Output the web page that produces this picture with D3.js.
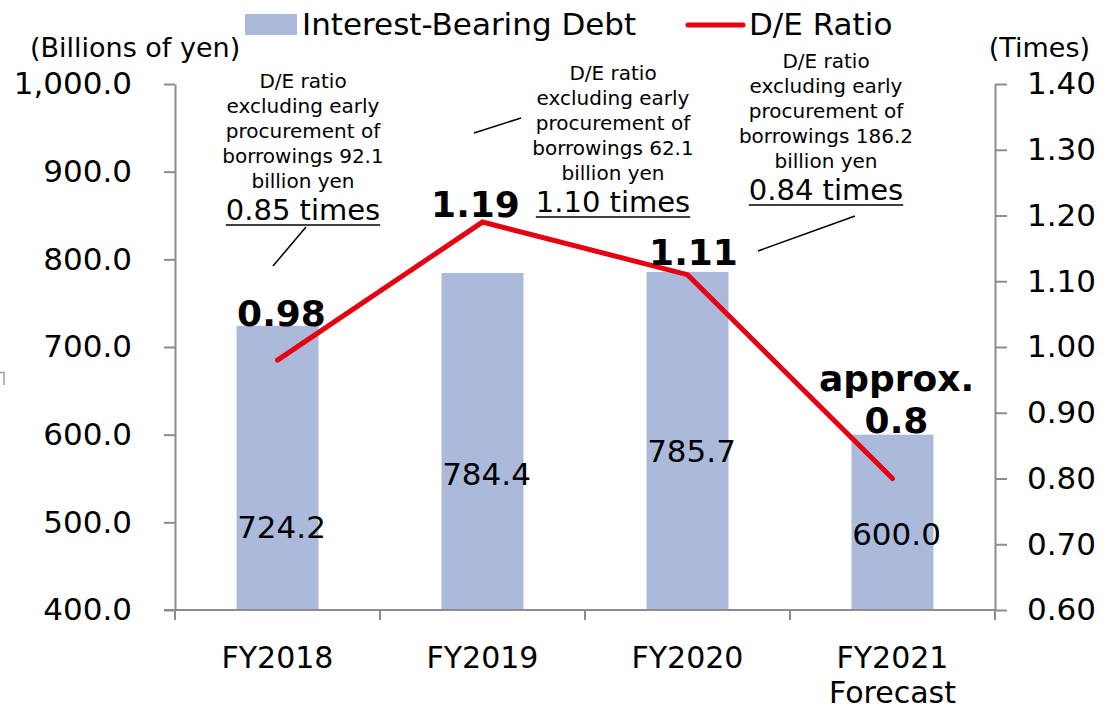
<!DOCTYPE html>
<html><head><meta charset="utf-8">
<script src="https://cdn.jsdelivr.net/npm/d3@7"></script>
<style>
html,body{margin:0;padding:0;background:#fff;}
svg{display:block;font-family:"DejaVu Sans",Verdana,sans-serif;}
</style></head>
<body><svg id="chart" width="1114" height="710"></svg>
<script>
// ---- data ----
const categories = ["FY2018", "FY2019", "FY2020", "FY2021\nForecast"];
const debtValues = [724.2, 784.4, 785.7, 600.0];
const deRatioValues = [0.98, 1.19, 1.11, 0.80];
const deRatioLabels = ["0.98", "1.19", "1.11", "approx.\n0.8"];
const leftTicks = [400, 500, 600, 700, 800, 900, 1000];
const rightTicks = [0.60, 0.70, 0.80, 0.90, 1.00, 1.10, 1.20, 1.30, 1.40];
const seriesNames = ["Interest-Bearing Debt", "D/E Ratio"];
const noteLines = [
  ["D/E ratio", "excluding early", "procurement of", "borrowings 92.1", "billion yen"],
  ["D/E ratio", "excluding early", "procurement of", "borrowings 62.1", "billion yen"],
  ["D/E ratio", "excluding early", "procurement of", "borrowings 186.2", "billion yen"]
];
const noteValues = ["0.85 times", "1.10 times", "0.84 times"];

// ---- layout ----
const L = {left: 175, right: 995, top: 84, bottom: 610};
const barColor = "#abbadb", lineColor = "#e60012", axisColor = "#8c8c8c";
const barLabelDy = [212, 212, 190, 110];          // baseline below bar top
const deLabelOff = [[4, -34], [-7, -5], [6, -10], [4, -46]];
const notePos = [[303, 88], [613, 80], [826, 68]]; // centre x, first baseline
const leaders = [[[306, 227], [273, 266]], [[521, 118], [474, 133]], [[855, 216], [758, 251]]];

const svg = d3.select("#chart");
const x = d3.scaleBand().domain(categories).range([L.left, L.right]).padding(0);
const yL = d3.scaleLinear().domain([400, 1000]).range([L.bottom, L.top]);
const yR = d3.scaleLinear().domain([0.6, 1.4]).range([L.bottom, L.top]);
const barW = x.bandwidth() * 0.4;

// stray mark at left edge
svg.append("path").attr("d", "M0,372.5H4V385").attr("fill", "none")
  .attr("stroke", "#a0a0a0").attr("stroke-width", 1.5);

// bars
svg.append("g").selectAll("rect").data(debtValues).join("rect")
  .attr("x", (d, i) => x(categories[i]) + (x.bandwidth() - barW) / 2)
  .attr("y", d => yL(d))
  .attr("width", barW)
  .attr("height", d => yL(400) - yL(d))
  .attr("fill", barColor);

// axes
const axL = svg.append("g").attr("transform", `translate(${L.left},0)`)
  .call(d3.axisLeft(yL).tickValues(leftTicks).tickSize(11).tickSizeOuter(0).tickPadding(32)
    .tickFormat(d3.format(",.1f")));
const axR = svg.append("g").attr("transform", `translate(${L.right},0)`)
  .call(d3.axisRight(yR).tickValues(rightTicks).tickSize(12).tickSizeOuter(0).tickPadding(20)
    .tickFormat(d3.format(".2f")));
[axL, axR].forEach(a => {
  a.selectAll("path,line").attr("stroke", axisColor).attr("stroke-width", 2);
  a.selectAll("text").attr("font-size", 31).attr("fill", "#000")
    .attr("font-family", "DejaVu Sans, Verdana, sans-serif");
});

// bottom axis
const axB = svg.append("g");
axB.append("line").attr("x1", L.left - 11).attr("x2", L.right)
  .attr("y1", L.bottom).attr("y2", L.bottom).attr("stroke", axisColor).attr("stroke-width", 2);
const bounds = categories.map(c => x(c)).concat([x.range()[1]]);
axB.selectAll("line.tk").data(bounds).join("line").attr("class", "tk")
  .attr("x1", d => d).attr("x2", d => d).attr("y1", L.bottom).attr("y2", L.bottom + 10)
  .attr("stroke", axisColor).attr("stroke-width", 2);
axB.selectAll("text").data(categories).join("text")
  .attr("x", d => x(d) + x.bandwidth() / 2)
  .attr("y", L.bottom + 58)
  .attr("text-anchor", "middle").attr("font-size", 30)
  .each(function (d) {
    d.split("\n").forEach((t, k) => d3.select(this).append("tspan")
      .attr("x", x(d) + x.bandwidth() / 2).attr("dy", k ? 35 : 0).text(t));
  });

// bar value labels
svg.append("g").selectAll("text").data(debtValues).join("text")
  .attr("x", (d, i) => x(categories[i]) + x.bandwidth() / 2 + 4)
  .attr("y", (d, i) => yL(d) + barLabelDy[i])
  .attr("text-anchor", "middle").attr("font-size", 31).text(d => d3.format(".1f")(d));

// line
const pts = deRatioValues.map((v, i) => [x(categories[i]) + x.bandwidth() / 2, yR(v)]);
svg.append("path").attr("d", d3.line()(pts)).attr("fill", "none")
  .attr("stroke", lineColor).attr("stroke-width", 5)
  .attr("stroke-linecap", "round").attr("stroke-linejoin", "miter");

// D/E labels
svg.append("g").selectAll("text").data(deRatioLabels).join("text")
  .attr("text-anchor", "middle").attr("font-size", 36).attr("font-weight", "bold")
  .each(function (d, i) {
    const parts = d.split("\n");
    const cx = pts[i][0] + deLabelOff[i][0];
    const by = pts[i][1] + deLabelOff[i][1];
    parts.forEach((t, k) => d3.select(this).append("tspan")
      .attr("x", cx).attr("y", by - (parts.length - 1 - k) * 42).text(t));
  });

// annotations
noteLines.forEach((lines, i) => {
  const g = svg.append("g");
  const [cx, y0] = notePos[i];
  lines.forEach((t, k) => g.append("text").attr("x", cx).attr("y", y0 + k * 25)
    .attr("text-anchor", "middle").attr("font-size", 20).text(t));
  const vy = y0 + lines.length * 25 + 7;
  const vt = g.append("text").attr("x", cx).attr("y", vy)
    .attr("text-anchor", "middle").attr("font-size", 29).text(noteValues[i]);
  const w = vt.node().getComputedTextLength();
  g.append("line").attr("x1", cx - w / 2).attr("x2", cx + w / 2)
    .attr("y1", vy + 5).attr("y2", vy + 5).attr("stroke", "#000").attr("stroke-width", 1.5);
  g.append("line").attr("x1", leaders[i][0][0]).attr("y1", leaders[i][0][1])
    .attr("x2", leaders[i][1][0]).attr("y2", leaders[i][1][1])
    .attr("stroke", "#000").attr("stroke-width", 1.5);
});

// unit titles
svg.append("text").attr("x", 30).attr("y", 57).attr("font-size", 27).text("(Billions of yen)");
svg.append("text").attr("x", 1090).attr("y", 57).attr("text-anchor", "end").attr("font-size", 27).text("(Times)");

// legend
const lg = svg.append("g");
lg.append("rect").attr("x", 245).attr("y", 14).attr("width", 52).attr("height", 21).attr("fill", barColor);
lg.append("text").attr("x", 302).attr("y", 35).attr("font-size", 31).text(seriesNames[0]);
lg.append("line").attr("x1", 688).attr("x2", 743).attr("y1", 25).attr("y2", 25)
  .attr("stroke", lineColor).attr("stroke-width", 5).attr("stroke-linecap", "round");
lg.append("text").attr("x", 749).attr("y", 35).attr("font-size", 31).text(seriesNames[1]);
</script></body></html>
